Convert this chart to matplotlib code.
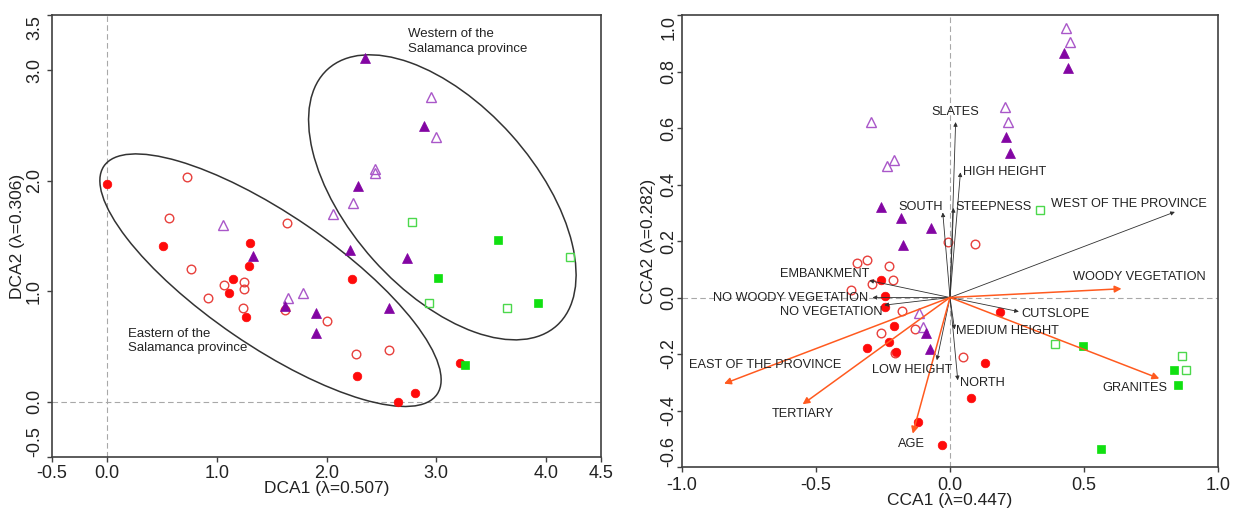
import matplotlib
matplotlib.use("Agg")
import matplotlib.pyplot as plt
from matplotlib.patches import Ellipse

plt.rcParams['font.family'] = ['Liberation Sans', 'DejaVu Sans']

# ---- DCA (left panel) ----
dca_fill_circ_x = [0.00, 0.51, 1.30, 1.29, 1.15, 1.11, 1.27, 2.23, 2.28, 2.81, 2.65, 3.22]
dca_fill_circ_y = [1.97, 1.41, 1.44, 1.23, 1.11, 0.98, 0.77, 1.11, 0.23, 0.08, 0.00, 0.35]
dca_open_circ_x = [0.73, 0.57, 0.77, 0.92, 1.07, 1.25, 1.25, 1.24, 1.64, 1.62, 2.00, 2.27, 2.57]
dca_open_circ_y = [2.03, 1.66, 1.20, 0.94, 1.06, 1.08, 1.02, 0.85, 1.62, 0.83, 0.73, 0.43, 0.47]
dca_fill_tri_x = [1.33, 1.62, 1.90, 1.90, 2.21, 2.73, 2.57, 2.35, 2.89, 2.29]
dca_fill_tri_y = [1.32, 0.87, 0.80, 0.62, 1.37, 1.30, 0.85, 3.11, 2.50, 1.95]
dca_open_tri_x = [1.06, 1.65, 1.79, 2.95, 3.00, 2.44, 2.44, 2.24, 2.06]
dca_open_tri_y = [1.60, 0.94, 0.98, 2.76, 2.40, 2.11, 2.07, 1.80, 1.70]
dca_fill_sq_x = [3.02, 3.93, 3.26, 3.56]
dca_fill_sq_y = [1.12, 0.89, 0.33, 1.46]
dca_open_sq_x = [2.93, 4.22, 3.64, 2.78]
dca_open_sq_y = [0.89, 1.31, 0.85, 1.63]

# ellipses: centre x, centre y, width, height, angle
east_ellipse = (1.49, 1.10, 3.67, 1.19, -34.2)
west_ellipse = (3.055, 1.85, 3.12, 1.69, -48.0)

# ---- CCA (right panel) ----
cca_fill_circ_x = [-0.257, -0.241, -0.242, 0.185, -0.210, -0.226, -0.311, -0.201, -0.119, 0.129, 0.079, -0.029]
cca_fill_circ_y = [0.061, 0.006, -0.033, -0.051, -0.101, -0.157, -0.177, -0.193, -0.440, -0.231, -0.355, -0.522]
cca_open_circ_x = [-0.008, 0.094, -0.347, -0.308, -0.229, -0.214, -0.292, -0.368, -0.180, -0.257, -0.207, -0.130, 0.048]
cca_open_circ_y = [0.195, 0.189, 0.121, 0.133, 0.112, 0.061, 0.048, 0.027, -0.048, -0.125, -0.198, -0.113, -0.210]
cca_fill_tri_x = [0.425, 0.442, 0.209, 0.224, -0.070, -0.257, -0.181, -0.174, -0.089, -0.073]
cca_fill_tri_y = [0.865, 0.812, 0.569, 0.513, 0.246, 0.321, 0.281, 0.186, -0.127, -0.181]
cca_open_tri_x = [0.432, 0.448, 0.204, 0.218, -0.295, -0.236, -0.210, -0.114, -0.102]
cca_open_tri_y = [0.954, 0.903, 0.676, 0.622, 0.621, 0.465, 0.487, -0.054, -0.104]
cca_fill_sq_x = [0.495, 0.836, 0.849, 0.565]
cca_fill_sq_y = [-0.172, -0.258, -0.311, -0.535]
cca_open_sq_x = [0.336, 0.393, 0.865, 0.879]
cca_open_sq_y = [0.311, -0.163, -0.207, -0.258]

# environmental vectors (black = minor, orange = significant)
black_names = ["SLATES", "HIGH HEIGHT", "SOUTH", "STEEPNESS", "WEST OF THE PROVINCE",
               "EMBANKMENT", "NO WOODY VEGETATION", "NO VEGETATION", "LOW HEIGHT",
               "MEDIUM HEIGHT", "NORTH", "CUTSLOPE"]
black_x = [0.021, 0.039, -0.027, 0.013, 0.839, -0.301, -0.289, -0.245, -0.049, 0.017, 0.029, 0.257]
black_y = [0.621, 0.443, 0.301, 0.317, 0.303, 0.060, 0.000, -0.027, -0.222, -0.113, -0.293, -0.050]
orange_names = ["WOODY VEGETATION", "GRANITES", "EAST OF THE PROVINCE", "TERTIARY", "AGE"]
orange_x = [0.640, 0.781, -0.843, -0.550, -0.139]
orange_y = [0.031, -0.287, -0.305, -0.378, -0.482]

# where each label sits (x, y, ha)
label_pos = {
    "SLATES": (0.021, 0.655, "center"),
    "HIGH HEIGHT": (0.047, 0.446, "left"),
    "SOUTH": (-0.025, 0.322, "right"),
    "STEEPNESS": (0.022, 0.322, "left"),
    "WEST OF THE PROVINCE": (0.667, 0.332, "center"),
    "EMBANKMENT": (-0.300, 0.083, "right"),
    "NO WOODY VEGETATION": (-0.305, 0.000, "right"),
    "NO VEGETATION": (-0.250, -0.053, "right"),
    "LOW HEIGHT": (-0.140, -0.257, "center"),
    "MEDIUM HEIGHT": (0.023, -0.117, "left"),
    "NORTH": (0.036, -0.304, "left"),
    "CUTSLOPE": (0.266, -0.060, "left"),
    "WOODY VEGETATION": (0.705, 0.071, "center"),
    "GRANITES": (0.690, -0.320, "center"),
    "EAST OF THE PROVINCE": (-0.690, -0.240, "center"),
    "TERTIARY": (-0.550, -0.414, "center"),
    "AGE": (-0.142, -0.520, "center"),
}

RED = "#ff0a0a"
RED_OPEN = "#e8403c"
PURPLE = "#8305a3"
PURPLE_OPEN = "#a957c9"
GREEN = "#11e011"
GREEN_OPEN = "#4cd84c"
ORANGE = "#ff5a1f"
AXC = "#404040"

fig = plt.figure(figsize=(12.34, 5.11), dpi=100)
ax1 = fig.add_axes([52/1234, 1-457/511, 549/1234, 442/511])
ax2 = fig.add_axes([682/1234, 1-467/511, 536/1234, 452/511])


def draw_points(ax, fcx, fcy, ocx, ocy, ftx, fty, otx, oty, fsx, fsy, osx, osy):
    ax.plot(ocx, ocy, 'o', ms=6.2, mfc='none', mec=RED_OPEN, mew=1.0, ls='none', zorder=4)
    ax.plot(fcx, fcy, 'o', ms=6.2, mfc=RED, mec=RED, mew=0.5, ls='none', zorder=4)
    ax.plot(otx, oty, '^', ms=6.8, mfc='none', mec=PURPLE_OPEN, mew=1.0, ls='none', zorder=4)
    ax.plot(ftx, fty, '^', ms=6.8, mfc=PURPLE, mec=PURPLE, mew=0.5, ls='none', zorder=4)
    ax.plot(osx, osy, 's', ms=5.6, mfc='none', mec=GREEN_OPEN, mew=1.0, ls='none', zorder=4)
    ax.plot(fsx, fsy, 's', ms=5.6, mfc=GREEN, mec=GREEN, mew=0.5, ls='none', zorder=4)


def style_axes(ax, xt, xl, yt, yl, xpad, ypad):
    for s in ax.spines.values():
        s.set_color(AXC)
        s.set_linewidth(1.2)
    ax.set_xticks(xt, xl, fontsize=13)
    ax.set_yticks(yt, yl, fontsize=13, rotation=90, va='center')
    # end labels pushed inwards, like the original
    labs = ax.get_yticklabels()
    labs[0].set_va('bottom')
    labs[-1].set_va('top')
    ax.tick_params(axis='both', direction='out', length=3.5, width=1.0, color=AXC, labelcolor='#222222')
    ax.tick_params(axis='x', pad=xpad)
    ax.tick_params(axis='y', pad=ypad)
    ax.axhline(0, color='#a8a8a8', lw=0.8, ls=(0, (5, 3)), zorder=1)
    ax.axvline(0, color='#a8a8a8', lw=0.8, ls=(0, (5, 3)), zorder=1)


# left panel
draw_points(ax1, dca_fill_circ_x, dca_fill_circ_y, dca_open_circ_x, dca_open_circ_y,
            dca_fill_tri_x, dca_fill_tri_y, dca_open_tri_x, dca_open_tri_y,
            dca_fill_sq_x, dca_fill_sq_y, dca_open_sq_x, dca_open_sq_y)
for cx, cy, w, h, ang in (east_ellipse, west_ellipse):
    ax1.add_patch(Ellipse((cx, cy), w, h, angle=ang, fill=False, ec='#333333', lw=1.1, zorder=3))
ax1.set_xlim(-0.5, 4.5)
ax1.set_ylim(-0.5, 3.5)
style_axes(ax1, [-0.5, 0, 1, 2, 3, 4, 4.5], ["-0.5", "0.0", "1.0", "2.0", "3.0", "4.0", "4.5"],
           [-0.5, 0, 1, 2, 3, 3.5], ["-0.5", "0.0", "1.0", "2.0", "3.0", "3.5"], 2.5, 3)
ax1.text(2.74, 3.38, "Western of the\nSalamanca province", fontsize=9.5, color='#222222',
         ha='left', va='top', linespacing=1.25)
ax1.text(0.19, 0.67, "Eastern of the\nSalamanca province", fontsize=9.5, color='#222222',
         ha='left', va='top', linespacing=1.25)
ax1.set_xlabel("DCA1 (λ=0.507)", fontsize=12.5, color='#222222', va='center')
ax1.set_ylabel("DCA2 (λ=0.306)", fontsize=12.5, color='#222222', va='center')
ax1.xaxis.set_label_coords(0.5, -0.072)
ax1.yaxis.set_label_coords(-0.062, 0.5)

# right panel
draw_points(ax2, cca_fill_circ_x, cca_fill_circ_y, cca_open_circ_x, cca_open_circ_y,
            cca_fill_tri_x, cca_fill_tri_y, cca_open_tri_x, cca_open_tri_y,
            cca_fill_sq_x, cca_fill_sq_y, cca_open_sq_x, cca_open_sq_y)
for name, x, y in zip(black_names, black_x, black_y):
    ax2.annotate("", xy=(x, y), xytext=(0, 0),
                 arrowprops=dict(arrowstyle='-|>', color='#303030', lw=0.6,
                                 mutation_scale=6, shrinkA=0, shrinkB=0), zorder=5)
for name, x, y in zip(orange_names, orange_x, orange_y):
    ax2.annotate("", xy=(x, y), xytext=(0, 0),
                 arrowprops=dict(arrowstyle='-|>', color=ORANGE, lw=1.1,
                                 mutation_scale=10, shrinkA=0, shrinkB=0), zorder=5)
for name in black_names + orange_names:
    lx, ly, ha = label_pos[name]
    ax2.text(lx, ly, name, fontsize=9.2, color='#222222', ha=ha, va='center', zorder=6)
ax2.set_xlim(-1.0, 1.0)
ax2.set_ylim(-0.6, 1.0)
style_axes(ax2, [-1.0, -0.5, 0, 0.5, 1.0], ["-1.0", "-0.5", "0.0", "0.5", "1.0"],
           [-0.6, -0.4, -0.2, 0, 0.2, 0.4, 0.6, 0.8, 1.0],
           ["-0.6", "-0.4", "-0.2", "0.0", "0.2", "0.4", "0.6", "0.8", "1.0"], 4, 0)
ax2.set_xlabel("CCA1 (λ=0.447)", fontsize=12.5, color='#222222', va='center')
ax2.set_ylabel("CCA2 (λ=0.282)", fontsize=12.5, color='#222222', va='center')
ax2.xaxis.set_label_coords(0.5, -0.075)
ax2.yaxis.set_label_coords(-0.062, 0.5)

fig.savefig("out.png", dpi=100)
